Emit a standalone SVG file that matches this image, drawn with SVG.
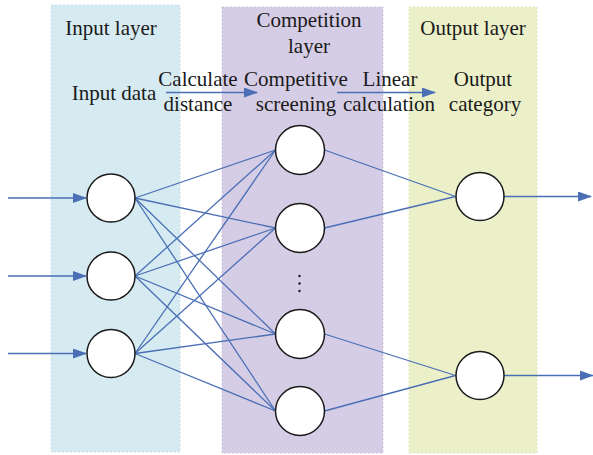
<svg xmlns="http://www.w3.org/2000/svg" width="593" height="455" viewBox="0 0 593 455">
  <style>
    .band { stroke-width: 0.8; stroke-dasharray: 2 2; }
    .node circle { fill: #ffffff; stroke: #1a1a1a; stroke-width: 1.5; }
    .link { stroke: #4a6fb5; stroke-width: 1.3; fill: none; }
    .arrow { stroke: #4a6fb5; stroke-width: 1.5; fill: none; marker-end: url(#head); }
    text { font-family: "Liberation Serif", "Times New Roman", serif; font-size: 21px; fill: #1a1a1a; text-anchor: middle; }
  </style>
  <defs>
    <marker id="head" viewBox="0 0 14 10" refX="13" refY="5" markerWidth="14" markerHeight="10" markerUnits="userSpaceOnUse" orient="auto">
      <path d="M0,0 L14,5 L0,10 Z" fill="#4a6fb5"/>
    </marker>
  </defs>

  <!-- layer bands -->
  <g id="bands">
    <rect class="band" x="51" y="5" width="129" height="447" fill="#d6eaf1" stroke="#c3dce6"/>
    <rect class="band" x="222" y="7" width="161" height="446" fill="#d5cde5" stroke="#c6bcd9"/>
    <rect class="band" x="409" y="7" width="128" height="446" fill="#ebf0c9" stroke="#dbe2b4"/>
  </g>

  <!-- headings -->
  <g id="labels">
    <text x="111" y="35">Input layer</text>
    <text x="309" y="27">Competition</text>
    <text x="309" y="53">layer</text>
    <text x="473" y="35">Output layer</text>
    <text x="114" y="100">Input data</text>
    <text x="198" y="86">Calculate</text>
    <text x="198" y="111">distance</text>
    <text x="296" y="86">Competitive</text>
    <text x="296" y="111">screening</text>
    <text x="390" y="86">Linear</text>
    <text x="389" y="111">calculation</text>
    <text x="483" y="86">Output</text>
    <text x="485" y="111">category</text>
  </g>

  <!-- connectors -->
  <g id="connectors">
    <line class="arrow" x1="166" y1="92.5" x2="257" y2="92.5"/>
    <line class="arrow" x1="337" y1="92.5" x2="435" y2="92.5"/>

    <line class="arrow" x1="8" y1="198" x2="86" y2="198"/>
    <line class="arrow" x1="8" y1="276" x2="86" y2="276"/>
    <line class="arrow" x1="8" y1="353.5" x2="86" y2="353.5"/>

    <line class="link" x1="135" y1="198" x2="275.5" y2="150"/>
    <line class="link" x1="135" y1="198" x2="275.5" y2="228"/>
    <line class="link" x1="135" y1="198" x2="275.5" y2="334"/>
    <line class="link" x1="135" y1="198" x2="275.5" y2="411"/>
    <line class="link" x1="135" y1="276" x2="275.5" y2="150"/>
    <line class="link" x1="135" y1="276" x2="275.5" y2="228"/>
    <line class="link" x1="135" y1="276" x2="275.5" y2="334"/>
    <line class="link" x1="135" y1="276" x2="275.5" y2="411"/>
    <line class="link" x1="135" y1="353.5" x2="275.5" y2="150"/>
    <line class="link" x1="135" y1="353.5" x2="275.5" y2="228"/>
    <line class="link" x1="135" y1="353.5" x2="275.5" y2="334"/>
    <line class="link" x1="135" y1="353.5" x2="275.5" y2="411"/>

    <line class="link" x1="324.5" y1="150" x2="455.5" y2="196.5"/>
    <line class="link" x1="324.5" y1="228" x2="455.5" y2="196.5"/>
    <line class="link" x1="324.5" y1="334" x2="455.5" y2="375.5"/>
    <line class="link" x1="324.5" y1="411" x2="455.5" y2="375.5"/>

    <line class="arrow" x1="504" y1="196.5" x2="591" y2="196.5"/>
    <line class="arrow" x1="504" y1="375.5" x2="593" y2="375.5"/>
  </g>

  <!-- input nodes -->
  <g id="in1" class="node"><circle cx="111" cy="198" r="24"/></g>
  <g id="in2" class="node"><circle cx="111" cy="276" r="24"/></g>
  <g id="in3" class="node"><circle cx="111" cy="353.5" r="24"/></g>

  <!-- competition nodes -->
  <g id="comp1" class="node"><circle cx="300" cy="150" r="24.5"/></g>
  <g id="comp2" class="node"><circle cx="300" cy="228" r="24.5"/></g>
  <g id="comp3" class="node"><circle cx="300" cy="334" r="24.5"/></g>
  <g id="comp4" class="node"><circle cx="300" cy="411" r="24.5"/></g>

  <!-- vertical ellipsis between competition nodes -->
  <g id="ellipsis" fill="#1a1a1a">
    <circle cx="299.5" cy="276" r="1.2"/>
    <circle cx="299.5" cy="283.5" r="1.2"/>
    <circle cx="299.5" cy="291" r="1.2"/>
  </g>

  <!-- output nodes -->
  <g id="out1" class="node"><circle cx="480" cy="196.5" r="24"/></g>
  <g id="out2" class="node"><circle cx="480" cy="375.5" r="24"/></g>
</svg>
